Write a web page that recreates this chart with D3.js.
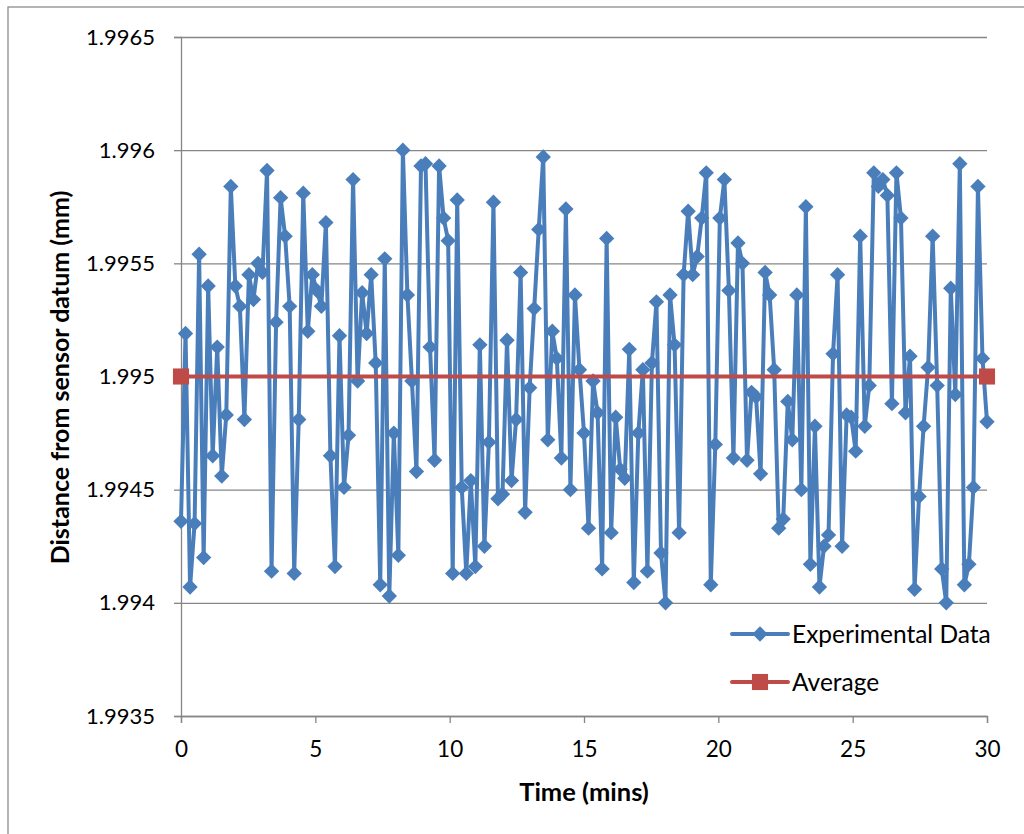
<!DOCTYPE html>
<html><head><meta charset="utf-8">
<script src="https://cdn.jsdelivr.net/npm/d3@7"></script>
<style>
body{margin:0;background:#fff}
svg{display:block}
text{font-family:Lato,"Open Sans",sans-serif;fill:#000}
</style>
</head><body>
<svg id="chart" width="1024" height="834"></svg>
<script>
// ---- data ----
const xTicks = [0, 5, 10, 15, 20, 25, 30];
const xTickLabels = ["0", "5", "10", "15", "20", "25", "30"];
const yTicks = [1.9935, 1.994, 1.9945, 1.995, 1.9955, 1.996, 1.9965];
const yTickLabels = ["1.9935", "1.994", "1.9945", "1.995", "1.9955", "1.996", "1.9965"];
const seriesNames = ["Experimental Data", "Average"];
const xTitle = "Time (mins)";
const yTitle = "Distance from sensor datum (mm)";
const timeRange = [0, 30];
const experimental = [
  1.99436, 1.99519, 1.99407, 1.99435, 1.99554, 1.99420, 1.99540, 1.99465, 1.99513, 1.99456,
  1.99483, 1.99584, 1.99540, 1.99531, 1.99481, 1.99545, 1.99534, 1.99550, 1.99546, 1.99591,
  1.99414, 1.99524, 1.99579, 1.99562, 1.99531, 1.99413, 1.99481, 1.99581, 1.99520, 1.99545,
  1.99538, 1.99531, 1.99568, 1.99465, 1.99416, 1.99518, 1.99451, 1.99474, 1.99587, 1.99498,
  1.99537, 1.99519, 1.99545, 1.99506, 1.99408, 1.99552, 1.99403, 1.99475, 1.99421, 1.99600,
  1.99536, 1.99498, 1.99458, 1.99593, 1.99594, 1.99513, 1.99463, 1.99593, 1.99570, 1.99560,
  1.99413, 1.99578, 1.99451, 1.99413, 1.99454, 1.99416, 1.99514, 1.99425, 1.99471, 1.99577,
  1.99446, 1.99448, 1.99516, 1.99454, 1.99481, 1.99546, 1.99440, 1.99495, 1.99530, 1.99565,
  1.99597, 1.99472, 1.99520, 1.99508, 1.99464, 1.99574, 1.99450, 1.99536, 1.99503, 1.99475,
  1.99433, 1.99498, 1.99484, 1.99415, 1.99561, 1.99431, 1.99482, 1.99459, 1.99455, 1.99512,
  1.99409, 1.99475, 1.99503, 1.99414, 1.99506, 1.99533, 1.99422, 1.99400, 1.99536, 1.99514,
  1.99431, 1.99545, 1.99573, 1.99545, 1.99553, 1.99570, 1.99590, 1.99408, 1.99470, 1.99570,
  1.99587, 1.99538, 1.99464, 1.99559, 1.99550, 1.99463, 1.99493, 1.99491, 1.99457, 1.99546,
  1.99536, 1.99503, 1.99433, 1.99437, 1.99489, 1.99472, 1.99536, 1.99450, 1.99575, 1.99417,
  1.99478, 1.99407, 1.99425, 1.99430, 1.99510, 1.99545, 1.99425, 1.99483, 1.99482, 1.99467,
  1.99562, 1.99478, 1.99496, 1.99590, 1.99584, 1.99587, 1.99580, 1.99488, 1.99590, 1.99570,
  1.99484, 1.99509, 1.99406, 1.99447, 1.99478, 1.99504, 1.99562, 1.99496, 1.99415, 1.99400,
  1.99539, 1.99492, 1.99594, 1.99408, 1.99417, 1.99451, 1.99584, 1.99508, 1.99480
];
const averageTimes = [0, 30];
const averageValues = [1.995, 1.995];

// ---- layout ----
const svg = d3.select("#chart");
const plot = {left: 181, right: 987, top: 37, bottom: 716};
const blue = "#4A7EBB", red = "#BE4B48", gray = "#868686";

svg.append("rect").attr("x", 8).attr("y", 7).attr("width", 1100).attr("height", 900)
  .attr("fill", "#fff").attr("stroke", "#8c8c8c").attr("stroke-width", 1.3);

const x = d3.scaleLinear().domain([0, 30]).range([plot.left, plot.right]);
const y = d3.scaleLinear().domain([1.9935, 1.9965]).range([plot.bottom, plot.top]);
// time of each sample: evenly spaced samples across the run
const sampleTime = d3.scaleLinear().domain([0, experimental.length - 1]).range(timeRange);
const expData = experimental.map((v, i) => ({t: sampleTime(i), v}));
const avgData = averageTimes.map((t, i) => ({t, v: averageValues[i]}));

// gridlines
svg.append("g").attr("transform", `translate(${plot.left},0)`)
  .call(d3.axisLeft(y).tickValues(yTicks).tickSize(-(plot.right - plot.left)).tickFormat(""))
  .call(g => g.select(".domain").remove())
  .call(g => g.selectAll("line").attr("stroke", gray).attr("stroke-width", 1.3));

// y axis
const yAxis = svg.append("g").attr("transform", `translate(${plot.left},0)`)
  .call(d3.axisLeft(y).tickValues(yTicks).tickSize(7).tickPadding(19)
    .tickFormat((d, i) => yTickLabels[i]));
yAxis.selectAll("line,path").attr("stroke", gray).attr("stroke-width", 1.3);
yAxis.selectAll("text").attr("font-size", 22).attr("font-family", "Lato, sans-serif").attr("fill", "#000");

// x axis
const xAxis = svg.append("g").attr("transform", `translate(0,${plot.bottom})`)
  .call(d3.axisBottom(x).tickValues(xTicks).tickSize(7).tickPadding(18)
    .tickFormat((d, i) => xTickLabels[i]));
xAxis.selectAll("line,path").attr("stroke", gray).attr("stroke-width", 1.3);
xAxis.selectAll("text").attr("font-size", 22.5).attr("font-family", "Lato, sans-serif").attr("fill", "#000");

// titles
svg.append("text").attr("x", 584).attr("y", 801)
  .attr("text-anchor", "middle").attr("font-weight", "bold").attr("font-size", 25.5).text(xTitle);
svg.append("text").attr("transform", `translate(69,${(plot.top + plot.bottom) / 2 + 1}) rotate(-90)`)
  .attr("text-anchor", "middle").attr("font-weight", "bold").attr("font-size", 25).text(yTitle);

// series
const line = d3.line().x(d => x(d.t)).y(d => y(d.v));
const diamond = d3.symbol().type(d3.symbolDiamond2).size(150);
const square = d3.symbol().type(d3.symbolSquare2).size(330);

svg.append("path").datum(expData).attr("d", line).attr("fill", "none")
  .attr("stroke", blue).attr("stroke-width", 4).attr("stroke-linejoin", "round");
svg.append("g").selectAll("path").data(expData).join("path")
  .attr("transform", d => `translate(${x(d.t)},${y(d.v)})`)
  .attr("d", diamond).attr("fill", blue);

svg.append("path").datum(avgData).attr("d", line).attr("fill", "none")
  .attr("stroke", red).attr("stroke-width", 4);
svg.append("g").selectAll("path").data(avgData).join("path")
  .attr("transform", d => `translate(${x(d.t)},${y(d.v)})`)
  .attr("d", square).attr("fill", red);

// legend
const legend = svg.append("g");
const legendRows = [
  {name: seriesNames[0], color: blue, sym: diamond, y: 634},
  {name: seriesNames[1], color: red, sym: square, y: 682}
];
legendRows.forEach(r => {
  legend.append("line").attr("x1", 732).attr("x2", 788).attr("y1", r.y).attr("y2", r.y)
    .attr("stroke", r.color).attr("stroke-width", 4).attr("stroke-linecap", "round");
  legend.append("path").attr("transform", `translate(760,${r.y})`).attr("d", r.sym).attr("fill", r.color);
  legend.append("text").attr("x", 792).attr("y", r.y).attr("dy", "0.35em")
    .attr("font-size", 24.5).text(r.name);
});
</script>
</body></html>
